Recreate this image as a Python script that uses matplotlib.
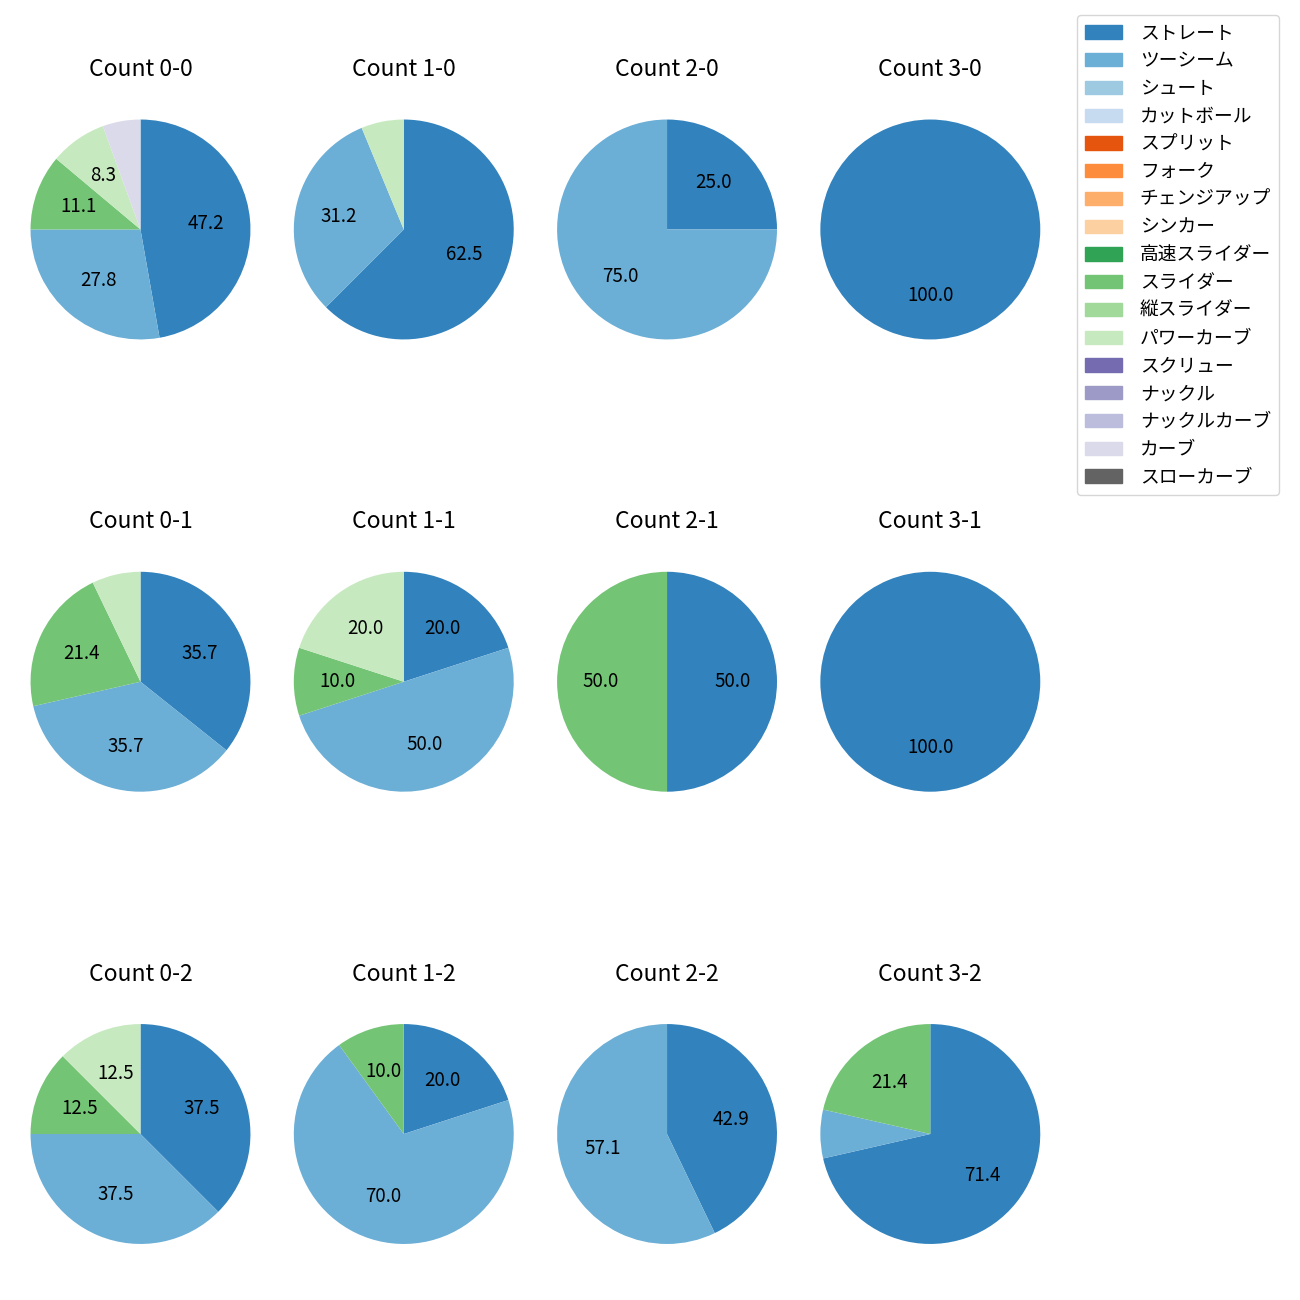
import matplotlib
matplotlib.use('Agg')
import matplotlib.pyplot as plt
import matplotlib.patches as mpatches

plt.rcParams['font.family'] = ['Noto Sans CJK JP', 'DejaVu Sans']

pitch_types = ['ストレート', 'ツーシーム', 'シュート', 'カットボール', 'スプリット', 'フォーク',
               'チェンジアップ', 'シンカー', '高速スライダー', 'スライダー', '縦スライダー',
               'パワーカーブ', 'スクリュー', 'ナックル', 'ナックルカーブ', 'カーブ', 'スローカーブ']

counts = ['0-0', '1-0', '2-0', '3-0',
          '0-1', '1-1', '2-1', '3-1',
          '0-2', '1-2', '2-2', '3-2']

# pitches thrown per count, listed by pitch type
pitches = {
    '0-0': {'ストレート': 17, 'ツーシーム': 10, 'スライダー': 4, 'パワーカーブ': 3, 'カーブ': 2},
    '1-0': {'ストレート': 10, 'ツーシーム': 5, 'パワーカーブ': 1},
    '2-0': {'ストレート': 1, 'ツーシーム': 3},
    '3-0': {'ストレート': 1},
    '0-1': {'ストレート': 5, 'ツーシーム': 5, 'スライダー': 3, 'パワーカーブ': 1},
    '1-1': {'ストレート': 2, 'ツーシーム': 5, 'スライダー': 1, 'パワーカーブ': 2},
    '2-1': {'ストレート': 1, 'スライダー': 1},
    '3-1': {'ストレート': 1},
    '0-2': {'ストレート': 3, 'ツーシーム': 3, 'スライダー': 1, 'パワーカーブ': 1},
    '1-2': {'ストレート': 2, 'ツーシーム': 7, 'スライダー': 1},
    '2-2': {'ストレート': 3, 'ツーシーム': 4},
    '3-2': {'ストレート': 10, 'ツーシーム': 1, 'スライダー': 3},
}

cmap = plt.get_cmap('tab20c')
colors = {p: cmap(i) for i, p in enumerate(pitch_types)}


def fmt(pct):
    return f'{pct:.1f}' if pct >= 8 else ''


fig, axes = plt.subplots(3, 4, figsize=(13, 13), dpi=100)
fig.subplots_adjust(left=0.0088, right=0.8149, top=0.93885, bottom=0.01231,
                    wspace=0.02, hspace=0.5077)

for ax, c in zip(axes.flat, counts):
    d = pitches[c]
    names = [p for p in pitch_types if p in d]
    vals = [d[p] for p in names]
    ax.pie(vals, colors=[colors[p] for p in names], startangle=90, counterclock=False,
           autopct=fmt, radius=1.065, pctdistance=0.6,
           textprops={'fontsize': 13.5, 'color': 'black'})
    ax.set_title(f'Count {c}', fontsize=16.5, pad=17.5)

handles = [mpatches.Patch(color=colors[p], label=p) for p in pitch_types]
fig.legend(handles=handles, loc='upper left', bbox_to_anchor=(1077 / 1300, 1 - 15 / 1300),
           borderaxespad=0, fontsize=13.5, labelspacing=0.36, handletextpad=0.95)

fig.savefig('out.png', dpi=100)
